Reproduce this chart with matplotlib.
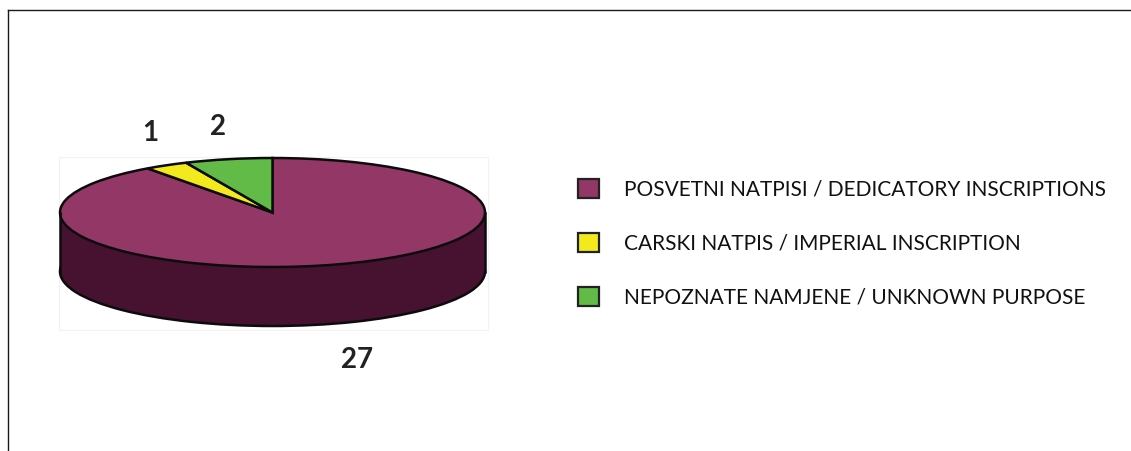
import matplotlib
matplotlib.use("Agg")
import matplotlib.pyplot as plt
from matplotlib.lines import Line2D
from matplotlib.patches import Rectangle

# donnees
labels = ["POSVETNI NATPISI / DEDICATORY INSCRIPTIONS",
          "CARSKI NATPIS / IMPERIAL INSCRIPTION",
          "NEPOZNATE NAMJENE / UNKNOWN PURPOSE"]
values = [27, 1, 2]
colors = ["#933767", "#f2ea1c", "#62bb46"]
side_color = "#46122f"
edge_color = "#0c0c0c"

W, H = 1131, 451
plt.rcParams["font.family"] = ["Lato", "DejaVu Sans"]
fig = plt.figure(figsize=(W / 100, H / 100), dpi=100)

# tout est place en pixels de l'image
def fx(x):
    return x / W
def fy(y):
    return 1 - y / H

# cadre du haut et de gauche
fig.add_artist(Line2D([fx(8), fx(8)], [0, fy(10)], color="#1a1a1a", lw=1.0))
fig.add_artist(Line2D([fx(8), 1], [fy(10), fy(10)], color="#1a1a1a", lw=1.0))

# fond tres clair de l'image du camembert (sous les axes)
fig.add_artist(Rectangle((fx(59), fy(330)), 429 / W, 173 / H, transform=fig.transFigure,
                         facecolor="white", edgecolor="#f2f2f2", lw=0.8, zorder=-1))

# camembert "3D" : un disque sombre en dessous, le disque colore au dessus
left, right, top, bottom = 60, 485, 158, 326
ry = 54.5
depth = (bottom - top - 2 * ry) / ry
ax = fig.add_axes([fx(left), fy(bottom), (right - left) / W, (bottom - top) / H])

line = dict(edgecolor=edge_color, linewidth=1.8, clip_on=False)
ax.pie([sum(values)], colors=[side_color], center=(0, -depth), radius=1, wedgeprops=line)
ax.add_patch(Rectangle((-1, -depth), 2, depth, facecolor=side_color, edgecolor="none", clip_on=False))
ax.plot([-1, -1], [-depth, 0], color=edge_color, lw=1.8, clip_on=False)
ax.plot([1, 1], [-depth, 0], color=edge_color, lw=1.8, clip_on=False)
wedges, _ = ax.pie(values, colors=colors, startangle=90, counterclock=False,
                   center=(0, 0), radius=1, wedgeprops=line)
ax.set_aspect("auto")
ax.set_xlim(-1, 1)
ax.set_ylim(-1 - depth, 1)

# valeurs
fig.text(fx(150), fy(133), str(values[1]), fontsize=20, fontweight="bold", color="#222222", ha="center", va="center")
fig.text(fx(218), fy(127), str(values[2]), fontsize=20, fontweight="bold", color="#222222", ha="center", va="center")
fig.text(fx(357), fy(360), str(values[0]), fontsize=20, fontweight="bold", color="#222222", ha="center", va="center")

# legende
handles = [Rectangle((0, 0), 1, 1, facecolor=c, edgecolor="#222222", lw=1.6) for c in colors]
fig.legend(handles, labels, loc="upper left", bbox_to_anchor=(fx(578), fy(179)),
           frameon=False, fontsize=15, borderpad=0, borderaxespad=0,
           handlelength=1.0, handleheight=1.0, handletextpad=1.2, labelspacing=1.62,
           labelcolor="#111111")

fig.savefig("out.png", dpi=100)
